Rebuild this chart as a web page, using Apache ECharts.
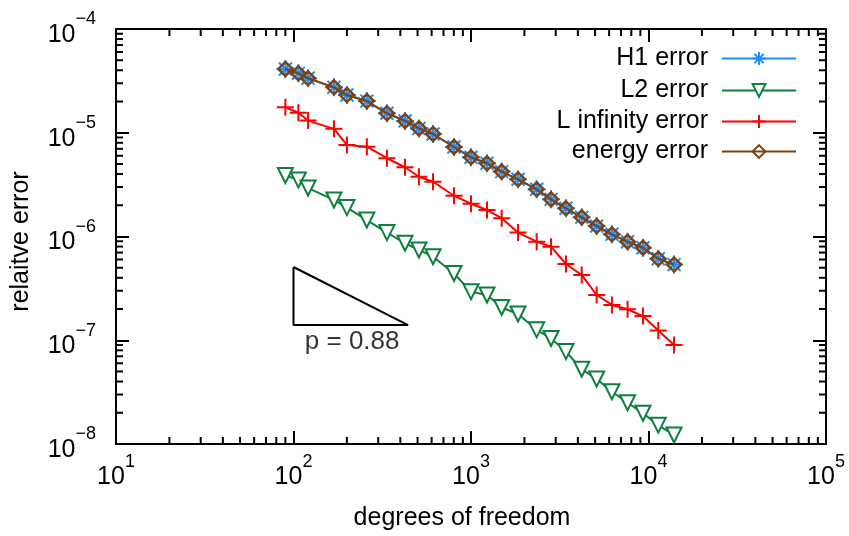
<!DOCTYPE html>
<html><head><meta charset="utf-8">
<script src="https://cdn.jsdelivr.net/npm/echarts@6/dist/echarts.min.js"></script>
<style>html,body{margin:0;padding:0;background:#fff}#c{width:849px;height:536px}</style>
</head><body><div id="c"></div>
<script>
const dof = [90,106.5,120.8,169,200,259,336,425,509,611,802,1000,1231,1489,1841,2344,2825,3428,4206,5105,6223,7621,9308,11350,13930];
const h1Err = [4.12e-5,3.74e-5,3.35e-5,2.74e-5,2.31e-5,2.02e-5,1.54e-5,1.30e-5,1.10e-5,9.73e-6,7.29e-6,5.80e-6,5.08e-6,4.22e-6,3.56e-6,2.85e-6,2.28e-6,1.87e-6,1.53e-6,1.26e-6,1.05e-6,8.91e-7,7.80e-7,6.10e-7,5.36e-7];
const l2Err = [3.87e-6,3.51e-6,2.93e-6,2.25e-6,1.90e-6,1.44e-6,1.09e-6,8.61e-7,7.42e-7,6.39e-7,4.40e-7,2.94e-7,2.73e-7,2.07e-7,1.79e-7,1.26e-7,1.04e-7,7.77e-8,5.25e-8,4.23e-8,3.19e-8,2.50e-8,1.98e-8,1.52e-8,1.22e-8];
const linfErr = [1.76e-5,1.56e-5,1.31e-5,1.09e-5,7.62e-6,7.34e-6,5.68e-6,4.65e-6,3.77e-6,3.37e-6,2.47e-6,2.07e-6,1.80e-6,1.50e-6,1.09e-6,8.91e-7,7.98e-7,5.43e-7,4.26e-7,2.73e-7,2.19e-7,1.99e-7,1.71e-7,1.24e-7,9.0e-8];
const energyErr = [4.12e-5,3.74e-5,3.35e-5,2.74e-5,2.31e-5,2.02e-5,1.54e-5,1.30e-5,1.10e-5,9.73e-6,7.29e-6,5.80e-6,5.08e-6,4.22e-6,3.56e-6,2.85e-6,2.28e-6,1.87e-6,1.53e-6,1.26e-6,1.05e-6,8.91e-7,7.80e-7,6.10e-7,5.36e-7];
const seriesNames = ['H1 error','L2 error','L infinity error','energy error'];
const slopeTriangleX = [100,100,442,100];
const slopeTriangleY = [5.08e-7,1.40e-7,1.40e-7,5.08e-7];
const slopeLabel = 'p = 0.88';
const slopeLabelPos = [214, 9.6e-8];
const xMin = 10, xMax = 1e5, yMin = 1e-8, yMax = 1e-4;

const FONT = 'Liberation Sans';
const FS = 25;
const pair = (xs, ys) => xs.map((x, i) => [x, ys[i]]);
const xMinor = []; for (let k = 1; k < 5; k++) for (let m = 2; m <= 9; m++) xMinor.push([m * Math.pow(10, k), yMin]);
const yMinor = []; for (let k = -8; k < -4; k++) for (let m = 2; m <= 9; m++) yMinor.push([xMin, m * Math.pow(10, k)]);

const labelFmt = v => { const e = Math.round(Math.log10(v)); return '{b|10}{s|' + (e < 0 ? '\u2212' + (-e) : e) + '}'; };
const rich = { b: {fontSize: FS, fontFamily: FONT, color: '#000', padding: [12, 0, 0, 0]}, s: {fontSize: 18, fontFamily: FONT, color: '#000', verticalAlign: 'top'} };

const blue = '#1e8fff', green = '#0f7f3e', red = '#ff0000', brown = '#7d4210';
const star = 'path://M0 -1 L0 1 M-1 0 L1 0 M-0.72 -0.72 L0.72 0.72 M-0.72 0.72 L0.72 -0.72';
const plus = 'path://M0 -1 L0 1 M-1 0 L1 0';

function mkLegend(name, top) {
  return { data: [name], orient: 'vertical', right: 52, top: top, padding: 0, itemWidth: 74, itemHeight: 16, align: 'right',
    textStyle: {fontSize: FS, fontFamily: FONT, color: '#000', padding: [0, 9, 0, 0]}, selectedMode: false };
}

const chart = echarts.init(document.getElementById('c'));
chart.setOption({
  animation: false,
  grid: {left: 116, right: 23, top: 29, bottom: 92},
  legend: [mkLegend(seriesNames[0], 46), mkLegend(seriesNames[1], 78), mkLegend(seriesNames[2], 109), mkLegend(seriesNames[3], 139)],
  xAxis: [
    {type: 'log', logBase: 10, min: xMin, max: xMax, position: 'bottom',
     name: 'degrees of freedom', nameLocation: 'middle', nameGap: 62,
     nameTextStyle: {fontSize: FS, fontFamily: FONT, color: '#000', padding: [0, 18, 0, 0]},
     axisLine: {lineStyle: {color: '#000', width: 2}},
     axisTick: {inside: true, length: 13, lineStyle: {color: '#000', width: 2}},
     minorTick: {show: false}, splitLine: {show: false},
     axisLabel: {formatter: labelFmt, rich: rich, margin: 9}},
    {type: 'log', logBase: 10, min: xMin, max: xMax, position: 'top',
     axisLine: {lineStyle: {color: '#000', width: 2}},
     axisTick: {inside: true, length: 13, lineStyle: {color: '#000', width: 2}},
     axisLabel: {show: false}, splitLine: {show: false}}
  ],
  yAxis: [
    {type: 'log', logBase: 10, min: yMin, max: yMax, position: 'left',
     name: 'relaitve error', nameLocation: 'middle', nameGap: 82, nameRotate: 90,
     nameTextStyle: {fontSize: FS, fontFamily: FONT, color: '#000', padding: [0, 10, 0, 0]},
     axisLine: {lineStyle: {color: '#000', width: 2}},
     axisTick: {inside: true, length: 13, lineStyle: {color: '#000', width: 2}},
     splitLine: {show: false},
     axisLabel: {formatter: labelFmt, rich: rich, margin: 20}},
    {type: 'log', logBase: 10, min: yMin, max: yMax, position: 'right',
     axisLine: {lineStyle: {color: '#000', width: 2}},
     axisTick: {inside: true, length: 13, lineStyle: {color: '#000', width: 2}},
     axisLabel: {show: false}, splitLine: {show: false}}
  ],
  series: [
    {type: 'custom', silent: true, data: xMinor, clip: false, z: 1,
     renderItem: (params, api) => {
       const cs = params.coordSys; const x = api.coord([api.value(0), yMin])[0];
       const st = {stroke: '#000', lineWidth: 2};
       return {type: 'group', children: [
         {type: 'line', shape: {x1: x, y1: cs.y + cs.height, x2: x, y2: cs.y + cs.height - 7}, style: st},
         {type: 'line', shape: {x1: x, y1: cs.y, x2: x, y2: cs.y + 7}, style: st}]};
     }},
    {type: 'custom', silent: true, data: yMinor, clip: false, z: 1,
     renderItem: (params, api) => {
       const cs = params.coordSys; const y = api.coord([xMin, api.value(1)])[1];
       const st = {stroke: '#000', lineWidth: 2};
       return {type: 'group', children: [
         {type: 'line', shape: {x1: cs.x, y1: y, x2: cs.x + 7, y2: y}, style: st},
         {type: 'line', shape: {x1: cs.x + cs.width, y1: y, x2: cs.x + cs.width - 7, y2: y}, style: st}]};
     }},
    {type: 'line', name: 'slope', silent: true, data: pair(slopeTriangleX, slopeTriangleY), symbol: 'none',
     lineStyle: {color: '#000', width: 2}, itemStyle: {color: '#000'}},
    {type: 'scatter', name: 'slopeLabel', silent: true, data: [slopeLabelPos], symbolSize: 1,
     itemStyle: {color: 'rgba(0,0,0,0)'},
     label: {show: true, position: 'inside', formatter: slopeLabel, fontSize: 26, fontFamily: FONT, color: '#000'}},
    {type: 'line', name: seriesNames[0], data: pair(dof, h1Err), symbol: star, symbolSize: 18,
     lineStyle: {color: blue, width: 2}, itemStyle: {color: blue, borderColor: blue, borderWidth: 2}, z: 3},
    {type: 'line', name: seriesNames[1], data: pair(dof, l2Err), symbol: 'emptyTriangle', symbolRotate: 180, symbolSize: 15,
     lineStyle: {color: green, width: 2}, itemStyle: {color: green, borderColor: green, borderWidth: 2}, z: 3},
    {type: 'line', name: seriesNames[2], data: pair(dof, linfErr), symbol: plus, symbolSize: 17,
     lineStyle: {color: red, width: 2}, itemStyle: {color: red, borderColor: red, borderWidth: 2}, z: 3},
    {type: 'line', name: seriesNames[3], data: pair(dof, energyErr), symbol: 'diamond', symbolSize: 14,
     lineStyle: {color: brown, width: 2}, itemStyle: {color: 'rgba(0,0,0,0)', borderColor: brown, borderWidth: 2.5}, z: 4}
  ]
});
</script></body></html>
